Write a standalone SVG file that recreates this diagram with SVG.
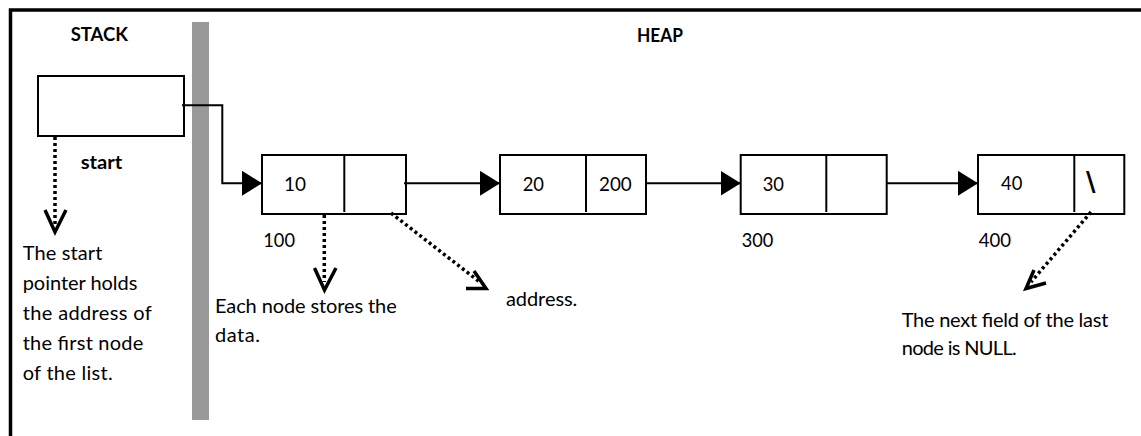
<svg xmlns="http://www.w3.org/2000/svg" width="1141" height="436" viewBox="0 0 1141 436">
<style>
text{font-family:Lato,"Open Sans","Liberation Sans",sans-serif;font-size:20px;fill:#000}
.b{font-weight:bold;font-size:19px}
.box{fill:#fff;stroke:#000;stroke-width:2}
.div{stroke:#000;stroke-width:2}
.conn{fill:none;stroke:#000;stroke-width:2}
.dot{fill:none;stroke:#000;stroke-width:3.5;stroke-dasharray:3 3}
.vh{fill:none;stroke:#000;stroke-width:3.5;stroke-linejoin:miter;stroke-linecap:butt}
</style>
<defs>
<marker id="tri" markerUnits="userSpaceOnUse" viewBox="0 0 20 25" refX="20" refY="12.5" markerWidth="20" markerHeight="25" orient="auto">
<path d="M0,0 L20,12.5 L0,25 Z" fill="#000"/>
</marker>
</defs>
<rect id="frame" x="10.5" y="10" width="1145" height="445" fill="#fff" stroke="#000" stroke-width="3.5"/>
<rect id="divider" x="192" y="22" width="17" height="398" fill="#999"/>
<g id="labels">
<text class="b" x="70.7" y="41" textLength="57.3" lengthAdjust="spacingAndGlyphs">STACK</text>
<text class="b" x="637" y="41.5" textLength="46" lengthAdjust="spacingAndGlyphs">HEAP</text>
</g>
<g id="start-node">
<rect class="box" x="38" y="76" width="146" height="60"/>
<text class="b" x="80.7" y="169" textLength="41.6" lengthAdjust="spacingAndGlyphs">start</text>
</g>
<g id="node-100">
<rect class="box" x="262" y="155" width="144" height="59"/>
<line class="div" x1="344.3" y1="155" x2="344.3" y2="212"/>
<text x="284" y="190.5" textLength="22" lengthAdjust="spacingAndGlyphs">10</text>
<text x="263.3" y="247" textLength="31.7" lengthAdjust="spacingAndGlyphs">100</text>
</g>
<g id="node-200">
<rect class="box" x="500" y="155" width="146" height="59"/>
<line class="div" x1="586" y1="155" x2="586" y2="212"/>
<text x="522.7" y="190.5" textLength="21.3" lengthAdjust="spacingAndGlyphs">20</text>
<text x="599" y="190.5" textLength="32.7" lengthAdjust="spacingAndGlyphs">200</text>
</g>
<g id="node-300">
<rect class="box" x="740.7" y="155" width="146" height="59"/>
<line class="div" x1="826.3" y1="155" x2="826.3" y2="212"/>
<text x="762.7" y="190.5" textLength="21.3" lengthAdjust="spacingAndGlyphs">30</text>
<text x="741.7" y="247" textLength="31.6" lengthAdjust="spacingAndGlyphs">300</text>
</g>
<g id="node-400">
<rect class="box" x="978" y="155" width="146.3" height="59"/>
<line class="div" x1="1074.3" y1="155" x2="1074.3" y2="212"/>
<text x="1001" y="189.5" textLength="21.3" lengthAdjust="spacingAndGlyphs">40</text>
<text x="1086" y="191" style="font-family:'DejaVu Sans',sans-serif;font-weight:bold;font-size:26px">\</text>
<text x="978.7" y="247" textLength="32.3" lengthAdjust="spacingAndGlyphs">400</text>
</g>
<g id="connectors">
<path class="conn" d="M182,105.3 H222.3 V183.3 H262" marker-end="url(#tri)"/>
<path class="conn" d="M404,183.3 H500" marker-end="url(#tri)"/>
<path class="conn" d="M646,183.3 H740.7" marker-end="url(#tri)"/>
<path class="conn" d="M886.7,183.3 H978" marker-end="url(#tri)"/>
<line class="dot" x1="55" y1="137" x2="55" y2="224"/>
<polyline class="vh" points="45,210 55,232 66,210"/>
<line class="dot" x1="324.3" y1="215" x2="324.3" y2="282"/>
<polyline class="vh" points="314.5,268 324.5,290 336,268"/>
<line class="dot" x1="391" y1="213" x2="481" y2="283"/>
<polyline class="vh" points="474,271 486,288.5 466,288.5"/>
<line class="dot" x1="1091" y1="212" x2="1031" y2="282"/>
<polyline class="vh" points="1034,270 1026,288.5 1046,283"/>
</g>
<g id="notes">
<text x="22.7" y="260" textLength="79.6" lengthAdjust="spacing">The start</text>
<text x="22.7" y="290" textLength="114.6" lengthAdjust="spacing">pointer holds</text>
<text x="22.7" y="320" textLength="129" lengthAdjust="spacing">the address of</text>
<text x="22.7" y="350" textLength="120.6" lengthAdjust="spacing">the first node</text>
<text x="22.7" y="379.5" textLength="90" lengthAdjust="spacing">of the list.</text>
<text x="215" y="313.3" textLength="181.7" lengthAdjust="spacing">Each node stores the</text>
<text x="215" y="341.7" textLength="45" lengthAdjust="spacing">data.</text>
<text x="506" y="306" textLength="71.3" lengthAdjust="spacing">address.</text>
<text x="901.7" y="326.7" textLength="206.6" lengthAdjust="spacing">The next field of the last</text>
<text x="901.7" y="355" textLength="115" lengthAdjust="spacing">node is NULL.</text>
</g>
</svg>
